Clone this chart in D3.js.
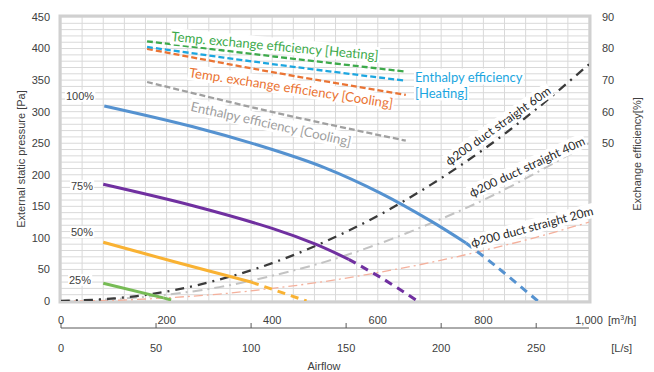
<!DOCTYPE html>
<html>
<head>
<meta charset="utf-8">
<title>Fan P-Q curve</title>
<style>
body { margin: 0; background: #fff; }
text { font-family: "Liberation Sans", Arial, sans-serif; }
.tick { font-size: 11px; fill: #404040; }
.note { font-family: Lato, "Open Sans", sans-serif; }
</style>
</head>
<body>
<script src="https://cdnjs.cloudflare.com/ajax/libs/d3/7.8.5/d3.min.js"></script>
<script>
// axis ticks
var pressureTicks = [0, 50, 100, 150, 200, 250, 300, 350, 400, 450];
var effTicks = [50, 60, 70, 80, 90];
var m3hTicks = [0, 200, 400, 600, 800, 1000];
var lsTicks = [0, 50, 100, 150, 200, 250];

// fan curves [m3/h, Pa] - solid part and dashed continuation
var fan100 = [[82, 309], [250, 276], [400, 240], [500, 211], [605, 171], [700, 127], [767, 92]];
var fan100Over = [[767, 92], [824, 55], [903, 0]];
var fan75 = [[80, 185], [250, 151], [400, 115], [482, 90], [545, 66]];
var fan75Over = [[545, 66], [610, 35], [675, 0]];
var fan50 = [[80, 93], [220, 61], [360, 30]];
var fan50Over = [[360, 30], [465, 0]];
var fan25 = [[80, 28], [194, 5]];
var fan25Over = [[194, 5], [215, 0]];

// duct resistance [m3/h, Pa]
var duct60 = [[0, 0], [100, 4], [200, 15], [300, 34], [400, 60], [500, 94], [600, 135], [700, 184], [800, 240], [900, 304], [1000, 375]];
var duct40 = [[0, 0], [100, 3], [200, 10], [300, 22], [400, 40], [500, 62], [600, 90], [700, 123], [800, 160], [900, 203], [1000, 250]];
var duct20 = [[0, 0], [100, 1], [200, 5], [300, 11], [400, 20], [500, 31], [600, 45], [700, 61], [800, 80], [900, 101], [1000, 125]];

// exchange efficiency [m3/h, %]
var tempHeat = [[163, 82.3], [408, 77.4], [653, 72.7]];
var enthHeat = [[163, 80.5], [408, 74.9], [653, 69.8]];
var tempCool = [[163, 79.9], [408, 72.3], [653, 65.3]];
var enthCool = [[163, 69.4], [408, 59.6], [653, 50.8]];

var W = 654, H = 372;
var plot = {left: 61, right: 589, top: 17, bottom: 301};

var x = d3.scaleLinear().domain([0, 1000]).range([plot.left, plot.right]);
var xLs = d3.scaleLinear().domain([0, 1000 / 3.6]).range([plot.left, plot.right]);
var y = d3.scaleLinear().domain([0, 450]).range([plot.bottom, plot.top]);
var y2 = d3.scaleLinear().domain([0, 90]).range([plot.bottom, plot.top]);

var svg = d3.select("body").append("svg")
    .attr("width", W)
    .attr("height", H);

svg.append("defs").append("clipPath").attr("id", "clip")
  .append("rect")
    .attr("x", plot.left).attr("y", plot.top)
    .attr("width", plot.right - plot.left).attr("height", plot.bottom - plot.top);

// grid
var grid = svg.append("g");
grid.selectAll(".hg")
    .data(d3.range(0, 451, 10))
  .enter().append("line")
    .attr("x1", plot.left).attr("x2", plot.right)
    .attr("y1", function(d) { return y(d); })
    .attr("y2", function(d) { return y(d); })
    .attr("stroke", "#d9d9d9");
grid.selectAll(".vg")
    .data(d3.range(0, 1001, 40))
  .enter().append("line")
    .attr("y1", plot.top).attr("y2", plot.bottom)
    .attr("x1", function(d) { return x(d); })
    .attr("x2", function(d) { return x(d); })
    .attr("stroke", "#d9d9d9");

// plot border
svg.append("rect")
    .attr("x", plot.left - 1).attr("y", plot.top - 1)
    .attr("width", plot.right - plot.left + 2).attr("height", plot.bottom - plot.top + 2)
    .attr("fill", "none")
    .attr("stroke", "#d0d0d0")
    .attr("stroke-width", 3);

// left axis labels
svg.append("g").selectAll("text")
    .data(pressureTicks)
  .enter().append("text")
    .attr("class", "tick")
    .attr("x", 50)
    .attr("y", function(d) { return y(d); })
    .attr("dy", "0.35em")
    .attr("text-anchor", "end")
    .text(function(d) { return d; });

// right axis labels
svg.append("g").selectAll("text")
    .data(effTicks)
  .enter().append("text")
    .attr("class", "tick")
    .attr("x", 602)
    .attr("y", function(d) { return y2(d); })
    .attr("dy", "0.35em")
    .text(function(d) { return d; });

svg.append("text")
    .attr("class", "tick")
    .attr("transform", "translate(21,159) rotate(-90)")
    .attr("text-anchor", "middle")
    .attr("dy", "0.35em")
    .text("External static pressure [Pa]");

svg.append("text")
    .attr("class", "tick")
    .attr("transform", "translate(637,154) rotate(-90)")
    .attr("text-anchor", "middle")
    .attr("dy", "0.35em")
    .text("Exchange efficiency[%]");

// bottom double axis
var axisY = 328;
svg.append("line")
    .attr("x1", plot.left).attr("x2", plot.right)
    .attr("y1", axisY).attr("y2", axisY)
    .attr("stroke", "#595959");
svg.append("g").selectAll("line")
    .data(lsTicks)
  .enter().append("line")
    .attr("x1", function(d) { return xLs(d); })
    .attr("x2", function(d) { return xLs(d); })
    .attr("y1", axisY - 5).attr("y2", axisY)
    .attr("stroke", "#595959");
svg.append("g").selectAll("text")
    .data(m3hTicks)
  .enter().append("text")
    .attr("class", "tick")
    .attr("x", function(d) { return x(d); })
    .attr("y", 320)
    .attr("dy", "0.35em")
    .attr("text-anchor", "middle")
    .text(function(d) { return d3.format(",")(d); });
svg.append("g").selectAll("text")
    .data(lsTicks)
  .enter().append("text")
    .attr("class", "tick")
    .attr("x", function(d) { return xLs(d); })
    .attr("y", 348)
    .attr("dy", "0.35em")
    .attr("text-anchor", "middle")
    .text(function(d) { return d; });

var unit = svg.append("text")
    .attr("class", "tick")
    .attr("x", 608).attr("y", 320).attr("dy", "0.35em");
unit.append("tspan").text("[m");
unit.append("tspan").attr("font-size", "7px").attr("dy", "-4").text("3");
unit.append("tspan").attr("dy", "4").text("/h]");

svg.append("text")
    .attr("class", "tick")
    .attr("x", 632).attr("y", 348).attr("dy", "0.35em")
    .attr("text-anchor", "end")
    .text("[L/s]");

svg.append("text")
    .attr("class", "tick")
    .attr("x", 324).attr("y", 366).attr("dy", "0.35em")
    .attr("text-anchor", "middle")
    .text("Airflow");

// lines
var lineP = d3.line()
    .x(function(d) { return x(d[0]); })
    .y(function(d) { return y(d[1]); })
    .curve(d3.curveCatmullRom.alpha(0.5));
var lineE = d3.line()
    .x(function(d) { return x(d[0]); })
    .y(function(d) { return y2(d[1]); })
    .curve(d3.curveCatmullRom.alpha(0.5));

var lines = svg.append("g").attr("clip-path", "url(#clip)");

function draw(data, gen, color, width, dash) {
  lines.append("path")
      .datum(data)
      .attr("d", gen)
      .attr("fill", "none")
      .attr("stroke", color)
      .attr("stroke-width", width)
      .attr("stroke-dasharray", dash || null);
}

draw(duct20, lineP, "#f4b09c", 1.3, "9,4,2,4");
draw(duct40, lineP, "#c3c3c3", 2, "10,5,2,5");
draw(duct60, lineP, "#3a3a3a", 2.3, "9,6,2,6");

draw(enthCool, lineE, "#a0a0a0", 2.3, "6,3");
draw(tempCool, lineE, "#ea7434", 2.3, "6,3");
draw(enthHeat, lineE, "#1ca6e0", 2.3, "6,3");
draw(tempHeat, lineE, "#3daa4b", 2.3, "6,3");

draw(fan25, lineP, "#77bb55", 3);
draw(fan25Over, lineP, "#77bb55", 3, "8,6");
draw(fan50, lineP, "#f9b233", 3);
draw(fan50Over, lineP, "#f9b233", 3, "8,6");
draw(fan75, lineP, "#7030a0", 3);
draw(fan75Over, lineP, "#7030a0", 3, "8,6");
draw(fan100, lineP, "#5592d0", 3);
draw(fan100Over, lineP, "#5592d0", 3, "8,6");

// labels with white box
function label(txt, cx, cy, angle, color, size, cls, anchor) {
  var g = svg.append("g")
      .attr("transform", "translate(" + cx + "," + cy + ") rotate(" + angle + ")");
  var t = g.append("text")
      .attr("class", cls || "")
      .attr("text-anchor", anchor || "middle")
      .attr("dy", "0.35em")
      .attr("font-size", size + "px")
      .attr("fill", color)
      .text(txt);
  var b = t.node().getBBox();
  g.insert("rect", "text")
      .attr("x", b.x - 1).attr("y", b.y)
      .attr("width", b.width + 2).attr("height", b.height)
      .attr("fill", "#fff");
}

label("100%", 80, 96, 0, "#404040", 11);
label("75%", 82, 186, 0, "#404040", 11);
label("50%", 82, 232, 0, "#404040", 11);
label("25%", 80, 280, 0, "#404040", 11);

label("Temp. exchange efficiency [Heating]", 275, 46, 5.3, "#3daa4b", 13.2, "note");
label("Temp. exchange efficiency [Cooling]", 291, 88, 8.7, "#ea7434", 13.2, "note");
label("Enthalpy efficiency [Cooling]", 271, 124, 12.5, "#a0a0a0", 13.2, "note");
label("Enthalpy efficiency", 415, 77, 0, "#1ca6e0", 13, "note", "start");
label("[Heating]", 415, 93, 0, "#1ca6e0", 13, "note", "start");

label("\u03d5200 duct straight 60m", 498, 126, -35.5, "#262626", 12, "note");
label("\u03d5200 duct straight 40m", 527, 167, -25, "#262626", 12, "note");
label("\u03d5200 duct straight 20m", 532, 227, -15, "#262626", 12, "note");
</script>
</body>
</html>
